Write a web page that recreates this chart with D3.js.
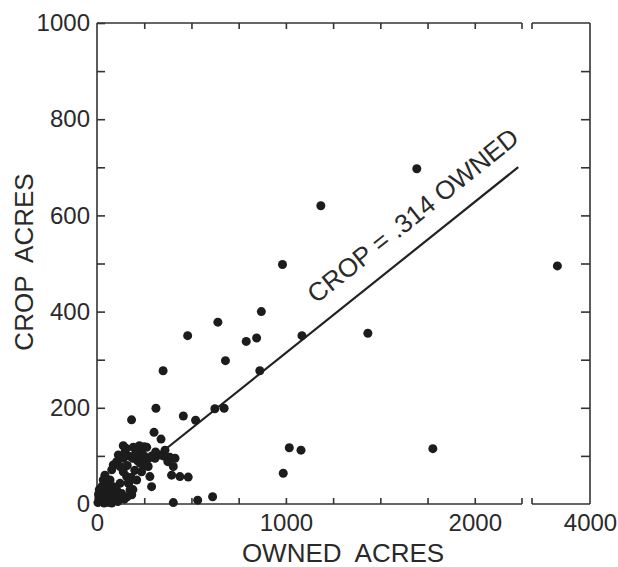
<!DOCTYPE html>
<html>
<head>
<meta charset="utf-8">
<script src="https://cdn.jsdelivr.net/npm/d3@7"></script>
<style>
	body { margin: 0; background: #fff; }
	svg text { font-family: "Liberation Sans", Arial, Helvetica, sans-serif; fill: #2a2a2a; }
</style>
</head>
<body>
<svg width="618" height="567"></svg>
<script>
// owned acres vs crop acres
var ownedAcres = [
	480, 640, 870, 790, 845, 680, 350, 862, 1085, 183, 312, 457, 522, 624, 673, 302, 339,
	1018, 1080, 986, 404, 533, 612, 439, 483, 1434, 1778, 1693, 1185, 982,
	413, 404, 395, 386, 360, 333, 307,
	139, 153, 192, 224, 250, 263, 236, 271, 280, 289, 228, 236, 175,
	113, 104, 86, 78, 122, 139, 157, 166, 175, 184,
	42, 33, 69, 60, 25, 86, 122, 104,
	5, 10, 15, 20, 25, 30, 35, 40, 45, 50, 55, 60, 65, 70, 75, 80, 85, 90, 95, 100, 105,
	12, 28, 48, 8, 18, 38, 58, 78, 110, 120, 130, 145, 160,
	190, 205, 215, 200, 180, 160, 140, 150, 170, 190, 210, 250, 245, 260, 290, 310, 350, 370, 375
];
var cropAcres = [
	350, 378, 400, 338, 345, 298, 277, 277, 350, 175, 199, 183, 174, 198, 199, 149, 135,
	117, 112, 64, 3, 8, 15, 57, 56, 355, 115, 697, 620, 498,
	95, 78, 60, 97, 112, 102, 95,
	121, 116, 118, 121, 119, 118, 106, 78, 57, 36, 85, 67, 99,
	102, 88, 81, 71, 78, 67, 57, 43, 29, 19,
	60, 50, 50, 36, 36, 36, 43, 29,
	3, 12, 22, 5, 15, 25, 8, 18, 28, 5, 14, 22, 3, 10, 18, 26, 6, 14, 22, 8, 16,
	30, 32, 34, 20, 10, 2, 30, 2, 5, 12, 22, 10, 15,
	95, 105, 90, 70, 55, 80, 95, 110, 45, 30, 50, 100, 80, 90, 100, 108, 100, 97, 88
];
// the one farm past the axis break
var ownedFar = [3820];
var cropFar = [495];

var slope = 0.314;
var lineEnd = 2230;

var yTicks = [0, 100, 200, 300, 400, 500, 600, 700, 800, 900, 1000];
var xTicks = [0, 250, 500, 750, 1000, 1250, 1500, 1750, 2000];
var xLabels = [0, 1000, 2000];
var xFarLabels = [4000];

var svg = d3.select("svg");
var ink = "#333";

var x = d3.scaleLinear().domain([0, 2250]).range([97, 522]);
var xFar = d3.scaleLinear().domain([3680, 4000]).range([532, 590]);
var y = d3.scaleLinear().domain([0, 1000]).range([504, 23]);

function drawFrameLine(x1, y1, x2, y2){
	svg.append("line")
		.attr("x1", x1).attr("y1", y1).attr("x2", x2).attr("y2", y2)
		.attr("stroke", ink).attr("stroke-width", 1.6);
}

// frame with broken x axis
drawFrameLine(x(0), y(0), x(0), y(1000));
drawFrameLine(x(0), y(0), x(2250), y(0));
drawFrameLine(x(0), y(1000), x(2250), y(1000));
drawFrameLine(x(2250), y(0), x(2250), y(0) - 6);
drawFrameLine(x(2250), y(1000), x(2250), y(1000) + 6);
drawFrameLine(xFar(3680), y(0), xFar(4000), y(0));
drawFrameLine(xFar(3680), y(1000), xFar(4000), y(1000));
drawFrameLine(xFar(3680), y(0), xFar(3680), y(0) - 6);
drawFrameLine(xFar(3680), y(1000), xFar(3680), y(1000) + 6);
drawFrameLine(xFar(4000), y(0), xFar(4000), y(1000));

function styleAxis(g){
	g.attr("font-size", null).attr("font-family", null);
	g.select(".domain").remove();
	g.selectAll(".tick line").attr("stroke", ink).attr("stroke-width", 1.6);
	g.selectAll(".tick text").attr("fill", "#2a2a2a").style("font-size", "24px");
}

svg.append("g")
	.attr("transform", "translate(" + x(0) + ",0)")
	.call(d3.axisLeft(y).tickValues(yTicks).tickSize(-8).tickPadding(7)
		.tickFormat(function(d){ return d % 200 === 0 ? d : ""; }))
	.call(styleAxis);

svg.append("g")
	.attr("transform", "translate(" + xFar(4000) + ",0)")
	.call(d3.axisRight(y).tickValues(yTicks.slice(1, -1)).tickSize(-9).tickFormat(""))
	.call(styleAxis);

svg.append("g")
	.attr("transform", "translate(0," + y(0) + ")")
	.call(d3.axisBottom(x).tickValues(xTicks).tickSize(-6).tickPadding(10)
		.tickFormat(function(d){ return xLabels.indexOf(d) >= 0 ? d : ""; }))
	.call(styleAxis);

svg.append("g")
	.attr("transform", "translate(0," + y(1000) + ")")
	.call(d3.axisTop(x).tickValues(xTicks.slice(1)).tickSize(-6).tickFormat(""))
	.call(styleAxis);

svg.append("g")
	.attr("transform", "translate(0," + y(0) + ")")
	.call(d3.axisBottom(xFar).tickValues(xFarLabels).tickSize(0).tickPadding(10)
		.tickFormat(d3.format("d")))
	.call(styleAxis);

// fitted line through the origin
svg.append("line")
	.attr("x1", x(0)).attr("y1", y(0))
	.attr("x2", x(lineEnd)).attr("y2", y(slope * lineEnd))
	.attr("stroke", "#222").attr("stroke-width", 2.2);

var angle = Math.atan2(y(slope * 1000) - y(0), x(1000) - x(0)) * 180 / Math.PI;
var at = 1765;
var nx = Math.sin(angle * Math.PI / 180), ny = -Math.cos(angle * Math.PI / 180);
svg.append("text")
	.attr("transform", "translate(" + (x(at) + nx * 19) + "," + (y(slope * at) + ny * 19) + ") rotate(" + angle + ")")
	.attr("text-anchor", "middle")
	.attr("xml:space", "preserve")
	.style("font-size", "26px")
	.text("CROP = .314 OWNED");

// points
svg.append("g").selectAll("circle")
	.data(d3.range(ownedAcres.length))
	.enter().append("circle")
	.attr("cx", function(i){ return x(ownedAcres[i]); })
	.attr("cy", function(i){ return y(cropAcres[i]); })
	.attr("r", 4.5)
	.attr("fill", "#1c1c1c");

svg.append("g").selectAll("circle")
	.data(d3.range(ownedFar.length))
	.enter().append("circle")
	.attr("cx", function(i){ return xFar(ownedFar[i]); })
	.attr("cy", function(i){ return y(cropFar[i]); })
	.attr("r", 4.5)
	.attr("fill", "#1c1c1c");

// axis titles
svg.append("text")
	.attr("x", 343).attr("y", 562)
	.attr("text-anchor", "middle")
	.attr("xml:space", "preserve")
	.style("font-size", "26px")
	.text("OWNED  ACRES");

svg.append("text")
	.attr("transform", "translate(33,262) rotate(-90)")
	.attr("text-anchor", "middle")
	.attr("xml:space", "preserve")
	.style("font-size", "26px")
	.text("CROP  ACRES");
</script>
</body>
</html>
